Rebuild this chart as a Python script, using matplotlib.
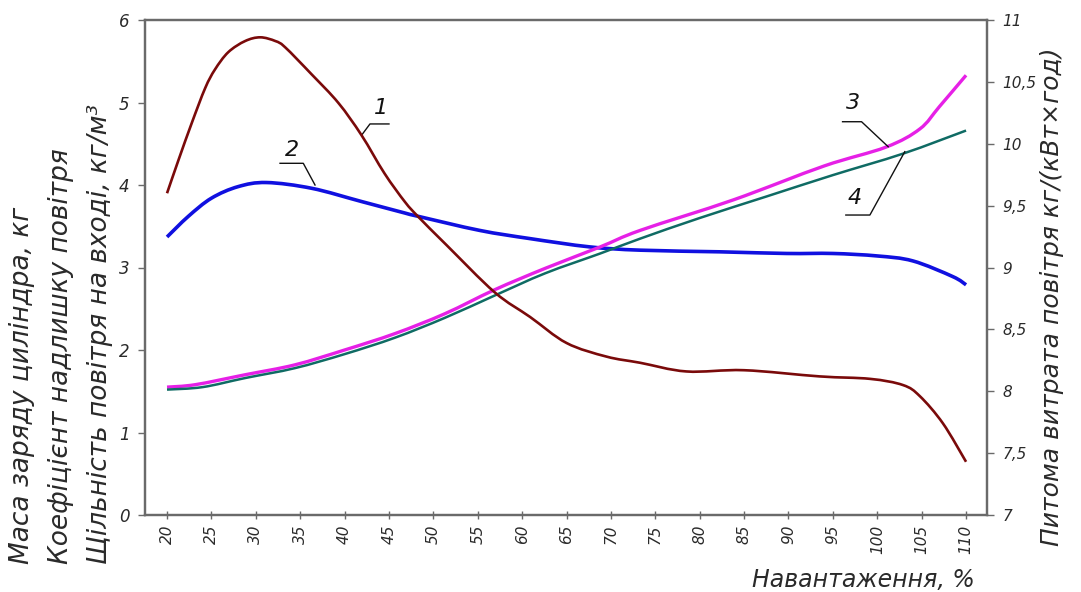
import matplotlib
matplotlib.use("Agg")
import matplotlib.pyplot as plt
from matplotlib.path import Path
from matplotlib.patches import PathPatch

# Load, %
x_ticks = [20, 25, 30, 35, 40, 45, 50, 55, 60, 65, 70, 75, 80, 85, 90, 95, 100, 105, 110]
left_ticks = [0, 1, 2, 3, 4, 5, 6]
right_ticks = [7, 7.5, 8, 8.5, 9, 9.5, 10, 10.5, 11]
right_tick_labels = ["7", "7,5", "8", "8,5", "9", "9,5", "10", "10,5", "11"]

# Curve 1 - specific air consumption, kg/(kW*h) (right axis)
load_1 = [20, 21.3, 22.8, 24.3, 25.4, 26.9, 28.8, 30.5, 32.2, 33.3, 36.3, 39.3, 41.9,
          44.5, 46.8, 48.3, 51.5, 56.9, 60.9, 65, 69.5, 73.3, 78.5, 85, 93.5, 99.2,
          102.9, 104.8, 107.4, 110]
air_rate_1 = [9.60, 9.87, 10.17, 10.45, 10.60, 10.74, 10.83, 10.86, 10.83, 10.78, 10.56,
              10.33, 10.07, 9.76, 9.53, 9.41, 9.18, 8.80, 8.60, 8.39, 8.28, 8.23, 8.16,
              8.17, 8.12, 8.10, 8.05, 7.96, 7.74, 7.43]

# Curve 2 - excess air coefficient (left axis)
load_2 = [20, 22.4, 25, 28, 31.2, 36.3, 41.9, 46.8, 48.3, 55.2, 60.9, 67.6, 73.3, 82.3,
          89.8, 95, 100, 104, 108.5, 110]
excess_air_2 = [3.37, 3.62, 3.84, 3.98, 4.03, 3.96, 3.80, 3.66, 3.62, 3.45, 3.35, 3.25,
                3.21, 3.19, 3.17, 3.17, 3.14, 3.08, 2.89, 2.79]

# Curve 3 - inlet air density, kg/m3 (left axis)
load_3 = [20, 23.2, 28.8, 34.4, 40, 45.7, 51.3, 56.9, 62.6, 68.8, 73.3, 83.8, 94, 101,
          104.8, 107, 110]
density_3 = [1.55, 1.58, 1.70, 1.82, 2.00, 2.20, 2.44, 2.73, 2.99, 3.25, 3.45, 3.82, 4.23,
             4.46, 4.68, 4.95, 5.33]

# Curve 4 - cylinder charge mass, kg (left axis)
load_4 = [20, 24, 28.8, 34.4, 40, 45.7, 51.3, 56.9, 62.6, 68.8, 73.3, 80, 87.5, 95,
          102.9, 110]
charge_4 = [1.52, 1.55, 1.66, 1.78, 1.95, 2.15, 2.39, 2.66, 2.93, 3.17, 3.35, 3.60, 3.86,
            4.12, 4.38, 4.66]

FONT = ["DejaVu Sans"]
SPINE = "#6a6a6a"
TXT = "#2a2a2a"


def smooth_curve(axes, xs, ys, **style):
    """Draw a smooth Bezier curve (Catmull-Rom tangents) through the given points."""
    pts = list(zip(xs, ys))
    verts = [pts[0]]
    codes = [Path.MOVETO]
    n = len(pts)
    for i in range(n - 1):
        p0 = pts[i - 1] if i > 0 else pts[i]
        p1 = pts[i]
        p2 = pts[i + 1]
        p3 = pts[i + 2] if i + 2 < n else pts[i + 1]
        c1 = (p1[0] + (p2[0] - p0[0]) / 6.0, p1[1] + (p2[1] - p0[1]) / 6.0)
        c2 = (p2[0] - (p3[0] - p1[0]) / 6.0, p2[1] - (p3[1] - p1[1]) / 6.0)
        verts += [c1, c2, p2]
        codes += [Path.CURVE4] * 3
    patch = PathPatch(Path(verts, codes), fill=False, transform=axes.transData,
                      capstyle="butt", joinstyle="round", **style)
    axes.add_patch(patch)
    return patch


fig = plt.figure(figsize=(10.81, 5.92), dpi=100)
ax = fig.add_axes([145 / 1081, 1 - 515 / 592, (987 - 145) / 1081, 495 / 592])
ax2 = ax.twinx()

smooth_curve(ax, load_2, excess_air_2, edgecolor="#1010e0", lw=2.6, zorder=2)
smooth_curve(ax, load_3, density_3, edgecolor="#e620e6", lw=2.4, zorder=3)
smooth_curve(ax, load_4, charge_4, edgecolor="#0f6b64", lw=1.8, zorder=4)
smooth_curve(ax2, load_1, air_rate_1, edgecolor="#7a0a0a", lw=1.9, zorder=5)

ax.set_xlim(17.52, 112.36)
ax.set_ylim(0, 6)
ax2.set_ylim(7, 11)

ax.set_xticks(x_ticks)
ax.set_xticklabels([str(v) for v in x_ticks], rotation=90, fontsize=11,
                   family=FONT, style="italic", color=TXT)
ax.set_yticks(left_ticks)
ax.set_yticklabels([str(v) for v in left_ticks], fontsize=12,
                   family=FONT, style="italic", color=TXT)
ax2.set_yticks(right_ticks)
ax2.set_yticklabels(right_tick_labels, fontsize=11, family=FONT, style="italic", color=TXT)

ax.tick_params(axis="x", direction="inout", length=6, width=1, color=SPINE, pad=4)
ax.tick_params(axis="y", direction="out", length=5, width=1, color=SPINE, pad=6)
ax2.tick_params(axis="y", direction="out", length=5, width=1, color=SPINE, pad=6)

for a in (ax, ax2):
    for s in a.spines.values():
        s.set_color(SPINE)
        s.set_linewidth(1.6)

# Curve number callouts: number, underline and leader to the curve
callouts = [
    ("1", (44.1, 4.93), [45.0, 42.86, 41.96], [4.74, 4.74, 4.61]),
    ("2", (34.05, 4.42), [32.73, 35.35, 36.67], [4.263, 4.263, 4.0]),
    ("3", (97.25, 4.99), [96.09, 98.23, 101.23], [4.767, 4.767, 4.464]),
    ("4", (97.5, 3.84), [96.46, 99.17, 103.1], [3.636, 3.636, 4.404]),
]
for num, (tx, ty), lx, ly in callouts:
    ax.plot(lx, ly, color="#111111", lw=1.0, zorder=6)
    ax.text(tx, ty, num, ha="center", va="center", fontsize=16, family=FONT,
            style="italic", color="#111111", zorder=6)

# Axis titles
fig.text(975 / 1081, 1 - 580 / 592, "Навантаження, %", ha="right", va="center",
         fontsize=17, family=FONT, style="italic", color=TXT)
fig.text(1052 / 1081, 1 - 297 / 592, "Питома витрата повітря кг/(кВт×год)", rotation=90,
         ha="center", va="center", fontsize=18, family=FONT, style="italic", color=TXT)
left_titles = [
    (22, "Маса заряду циліндра, кг"),
    (61, "Коефіцієнт надлишку повітря"),
    (100, "Щільність повітря на вході, кг/м³"),
]
for xp, txt in left_titles:
    fig.text(xp / 1081, 1 - 564 / 592, txt, rotation=90, ha="center", va="bottom",
             fontsize=19, family=FONT, style="italic", color=TXT)

fig.savefig("out.png", dpi=100, facecolor="white")
